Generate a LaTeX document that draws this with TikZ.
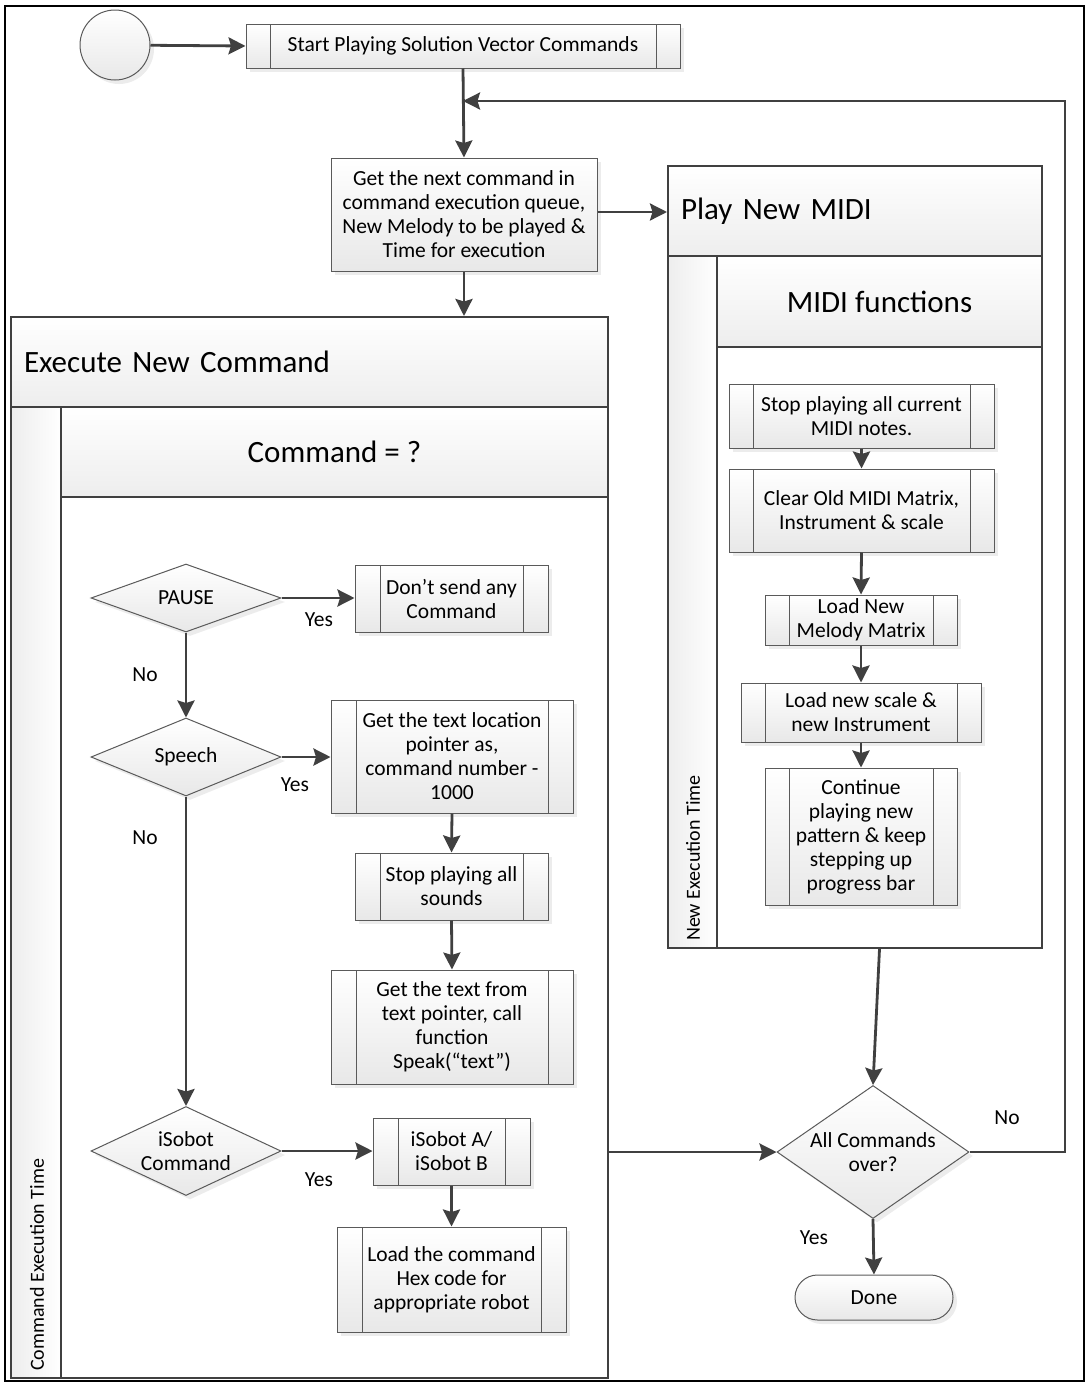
\documentclass[tikz,border=0pt]{standalone}
\usepackage{fontspec}
\setmainfont{Carlito}
\usetikzlibrary{shapes.geometric,shapes.misc,arrows.meta,shadows}
\definecolor{ln}{HTML}{404040}
\definecolor{bd}{HTML}{5A5A5A}
\tikzset{
  txt/.style={font=\fontsize{21.5}{24}\selectfont, align=center},
  sidetxt/.style={font=\fontsize{20}{24}\selectfont},
  bigtxt/.style={font=\fontsize{31}{34}\selectfont},
  shad/.style={drop shadow={opacity=0.15, shadow xshift=4pt, shadow yshift=-4pt}},
  base/.style={draw=bd, line width=1pt, top color=white, bottom color=black!9, inner sep=0pt, txt, shad},
  proc/.style={base, rectangle},
  subproc/.style={base, rectangle, path picture={
      \draw[bd, line width=1pt] ([xshift=#1]path picture bounding box.north west) -- ([xshift=#1]path picture bounding box.south west);
      \draw[bd, line width=1pt] ([xshift=-#1]path picture bounding box.north east) -- ([xshift=-#1]path picture bounding box.south east);}},
  subproc/.default=24pt,
  decision/.style={base, diamond},
  term/.style={base, rounded rectangle},
  startnode/.style={base, ellipse},
  poolpart/.style={draw=ln, line width=2pt, inner sep=0pt},
  hdr/.style={poolpart, top color=white, bottom color=black!7},
  lanecol/.style={poolpart, left color=black!7, right color=white},
  content/.style={poolpart, fill=white},
  arr/.style={draw=ln, line width=2.8pt, -{Stealth[length=17pt,width=17pt,inset=2.5pt]}},
  lbl/.style={txt, inner sep=0pt}
}
\begin{document}
\begin{tikzpicture}[x=1pt,y=-1pt]
\useasboundingbox (0,0) rectangle (1088,1384);
\draw[black, line width=2.4pt] (5,6) rectangle (1084,1381);

% ---- Execute New Command pool
\node[hdr, minimum width=597pt, minimum height=90pt, text width=571pt, align=left, bigtxt] (exhdr) at (309.5,362) {Execute New Command};
\node[lanecol, minimum width=50pt, minimum height=971pt] (excol) at (36,892.5) {};
\node[hdr, minimum width=547pt, minimum height=90pt, bigtxt] (exlane) at (334.5,452) {Command = ?};
\node[content, minimum width=547pt, minimum height=881pt] (excont) at (334.5,937.5) {};
\node[sidetxt, rotate=90, anchor=west, inner sep=0pt] (exlbl) at (37,1371) {Command Execution Time};

% ---- Play New MIDI pool
\node[hdr, minimum width=374pt, minimum height=90pt, text width=348pt, align=left, bigtxt] (mihdr) at (855,211) {Play New MIDI};
\node[lanecol, minimum width=49pt, minimum height=692pt] (micol) at (692.5,602) {};
\node[hdr, minimum width=325pt, minimum height=91pt, bigtxt] (milane) at (879.5,301.5) {MIDI functions};
\node[content, minimum width=325pt, minimum height=601pt] (micont) at (879.5,647.5) {};
\node[sidetxt, rotate=90, anchor=west, inner sep=0pt] (milbl) at (693,941) {New Execution Time};

% ---- top
\node[startnode, minimum width=70pt, minimum height=70pt] (start) at (115,45) {};
\node[subproc, minimum width=434pt, minimum height=44pt] (sbox) at (463,46) {Start Playing Solution Vector Commands};
\node[proc, minimum width=266pt, minimum height=113pt] (getbox) at (464,214.5) {Get the next command in\\command execution queue,\\New Melody to be played \&\\Time for execution};

% ---- left lane
\node[decision, minimum width=190pt, minimum height=68pt, label={[txt]center:PAUSE}] (pause) at (186,598) {};
\node[subproc=25pt, minimum width=193pt, minimum height=67pt] (dont) at (451.5,598.5) {Don’t send any\\Command};
\node[decision, minimum width=190pt, minimum height=78pt, label={[txt]center:Speech}] (speech) at (186,757) {};
\node[subproc=25pt, minimum width=242pt, minimum height=113pt] (txtloc) at (452,756.5) {Get the text location\\pointer as,\\command number -\\1000};
\node[subproc=25pt, minimum width=193pt, minimum height=67pt] (stopsnd) at (451.5,886.5) {Stop playing all\\sounds};
\node[subproc=25pt, minimum width=242pt, minimum height=114pt] (speak) at (452,1027) {Get the text from\\text pointer, call\\function\\Speak(“text”)};
\node[decision, minimum width=190pt, minimum height=89pt, label={[txt]center:iSobot\\Command}] (isobot) at (186,1151) {};
\node[subproc=25pt, minimum width=157pt, minimum height=67pt] (isab) at (451.5,1151.5) {iSobot A/\\iSobot B};
\node[subproc=25pt, minimum width=229pt, minimum height=105pt] (loadcmd) at (451.5,1279.5) {Load the command\\Hex code for\\appropriate robot};

% ---- right lane
\node[subproc, minimum width=265pt, minimum height=64pt] (stopmidi) at (861.5,416) {Stop playing all current\\MIDI notes.};
\node[subproc, minimum width=265pt, minimum height=83pt] (clear) at (861.5,510.5) {Clear Old MIDI Matrix,\\Instrument \& scale};
\node[subproc, minimum width=192pt, minimum height=50pt] (melody) at (861,620) {Load New\\Melody Matrix};
\node[subproc, minimum width=240pt, minimum height=59pt] (scale) at (861,712.5) {Load new scale \&\\new Instrument};
\node[subproc, minimum width=192pt, minimum height=137pt] (cont) at (861,836.5) {Continue\\playing new\\pattern \& keep\\stepping up\\progress bar};

% ---- end
\node[decision, minimum width=192pt, minimum height=133pt, label={[txt]center:All Commands\\over?}] (allc) at (873,1152) {};
\node[term, minimum width=158pt, minimum height=45pt] (done) at (874,1297.5) {Done};

% ---- connectors
\coordinate (jn) at (463,101);
\coordinate (c1) at (1065,1152);
\coordinate (c2) at (1065,101);
\draw[arr] (start) -- (sbox.west);
\draw[arr] (sbox.south) -- (getbox.north);
\draw[arr] (allc.east) -- (c1) -- (c2) -- (jn);
\draw[arr] (getbox.east |- 0,212) -- (mihdr.west |- 0,212);
\draw[arr] (getbox.south) -- (getbox.south |- exhdr.north);
\draw[arr] (pause.east) -- (dont.west |- pause.east);
\draw[arr] (pause.south) -- (speech.north);
\draw[arr] (speech.east) -- (txtloc.west |- speech.east);
\draw[arr] (txtloc.south) -- (stopsnd.north);
\draw[arr] (stopsnd.south) -- (speak.north);
\draw[arr] (speech.south) -- (isobot.north);
\draw[arr] (isobot.east) -- (isab.west |- isobot.east);
\draw[arr] (isab.south) -- (loadcmd.north);
\draw[arr] (stopmidi.south) -- (clear.north);
\draw[arr] (clear.south) -- (melody.north);
\draw[arr] (melody.south) -- (scale.north);
\draw[arr] (scale.south) -- (cont.north);
\draw[arr] (excont.east |- allc.west) -- (allc.west);
\draw[arr] (micont.south) -- (allc.north);
\draw[arr] (allc.south) -- (done.north);

% ---- labels
\node[lbl] (y1) at (319,620) {Yes};
\node[lbl] (n1) at (145,675) {No};
\node[lbl] (y2) at (295,785) {Yes};
\node[lbl] (n2) at (145,838) {No};
\node[lbl] (y3) at (319,1180) {Yes};
\node[lbl] (n3) at (1007,1118) {No};
\node[lbl] (y4) at (814,1238) {Yes};
\end{tikzpicture}
\end{document}
